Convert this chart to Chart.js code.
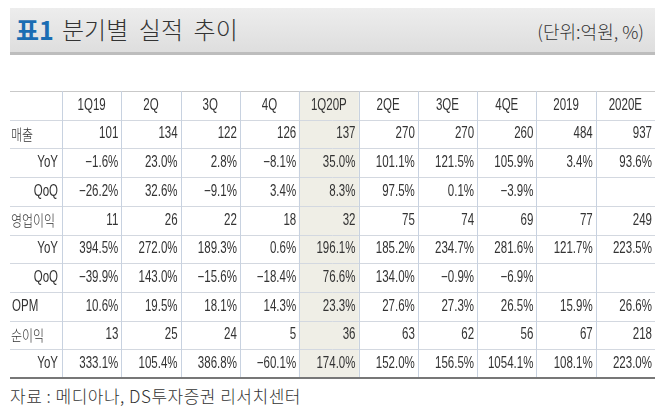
<!DOCTYPE html>
<html><head><meta charset="utf-8">
<script src="https://cdn.jsdelivr.net/npm/chart.js@4"></script>
<style>
body{margin:0;background:#fff;width:658px;height:412px;overflow:hidden;position:relative;font-family:"Noto Sans CJK KR",sans-serif}
#bar{position:absolute;left:10px;top:8px;width:645px;height:44px;background:linear-gradient(#ededed,#dedede);border-bottom:3px solid #bdbdbd}
#t1{position:absolute;left:16px;top:14px;font-size:25px;font-weight:bold;color:#1b6db3;line-height:30px}
#t2{position:absolute;left:62px;top:14px;font-size:24px;color:#333;line-height:30px;font-weight:300}
#u{position:absolute;right:14px;top:18px;font-size:18px;color:#333;line-height:26px;font-weight:300}
#src{position:absolute;left:10px;top:384px;font-size:17px;color:#333;line-height:24px;font-weight:300;letter-spacing:0.5px}
canvas{position:absolute;left:0;top:0}
</style></head><body>
<div id="bar"></div><div id="t1">표1</div><div id="t2">분기별&nbsp; 실적&nbsp; 추이</div><div id="u">(단위:억원, %)</div>
<div id="src">자료 : 메디아나, DS투자증권 리서치센터</div>
<div style="position:absolute;left:0;top:0;width:658px;height:412px"><canvas id="c"></canvas></div>
<script>
const columns=["1Q19","2Q","3Q","4Q","1Q20P","2QE","3QE","4QE","2019","2020E"];
const rowLabels=["매출","YoY","QoQ","영업이익","YoY","QoQ","OPM","순이익","YoY"];
const subRow=[false,true,true,false,true,true,false,false,true];
const sales=[101,134,122,126,137,270,270,260,484,937];
const salesYoY=[-1.6,23.0,2.8,-8.1,35.0,101.1,121.5,105.9,3.4,93.6];
const salesQoQ=[-26.2,32.6,-9.1,3.4,8.3,97.5,0.1,-3.9,null,null];
const op=[11,26,22,18,32,75,74,69,77,249];
const opYoY=[394.5,272.0,189.3,0.6,196.1,185.2,234.7,281.6,121.7,223.5];
const opQoQ=[-39.9,143.0,-15.6,-18.4,76.6,134.0,-0.9,-6.9,null,null];
const opm=[10.6,19.5,18.1,14.3,23.3,27.6,27.3,26.5,15.9,26.6];
const ni=[13,25,24,5,36,63,62,56,67,218];
const niYoY=[333.1,105.4,386.8,-60.1,174.0,152.0,156.5,1054.1,108.1,223.0];
const rows=[sales,salesYoY,salesQoQ,op,opYoY,opQoQ,opm,ni,niYoY];
const isPct=[false,true,true,false,true,true,true,false,true];
const highlightCol="1Q20P";
const nRows=rowLabels.length+1;
function fmt(v,p){if(v===null)return "";let s=p?Math.abs(v).toFixed(1)+"%":String(Math.abs(v));return (v<0?"−":"")+s;}
const NUM='16px "Liberation Sans",sans-serif';
const KR='300 15px "Noto Sans CJK KR",sans-serif';
const SX=0.72;
function txt(c,s,x,y,align,font,sx){c.save();c.font=font;c.textAlign=align;c.translate(x,y);c.scale(sx,1);c.fillText(s,0,0);c.restore();}
const tablePlugin={id:'tbl',afterDatasetsDraw(ch){
 const c=ch.ctx,x=ch.scales.x,y=ch.scales.y,a=ch.chartArea;
 const L=10,half=(x.getPixelForValue(1)-x.getPixelForValue(0))/2;
 c.save();
 c.strokeStyle='#d3d8e0';c.lineWidth=1;
 for(let r=1;r<nRows;r++){const py=Math.round(y.getPixelForValue(r))+0.5;c.beginPath();c.moveTo(L,py);c.lineTo(a.right,py);c.stroke();}
 c.strokeStyle='#c9c9c9';c.beginPath();c.moveTo(L,a.top+0.5);c.lineTo(a.right,a.top+0.5);c.stroke();
 c.strokeStyle='#c8d2e0';
 for(let i=0;i<columns.length;i++){const px=Math.round(x.getPixelForValue(i)-half)+0.5;c.beginPath();c.moveTo(px,a.top);c.lineTo(px,a.bottom);c.stroke();}
 c.strokeStyle='#777';c.lineWidth=2;c.beginPath();c.moveTo(L,a.bottom);c.lineTo(a.right,a.bottom);c.stroke();
 c.fillStyle='#333';c.textBaseline='middle';
 columns.forEach((col,i)=>txt(c,col,x.getPixelForValue(i),y.getPixelForValue(0.5),'center',NUM,SX));
 rows.forEach((arr,r)=>{const py=y.getPixelForValue(r+1.5);
  if(subRow[r])txt(c,rowLabels[r],a.left-4,py,'right',NUM,SX);
  else if(rowLabels[r]==="OPM")txt(c,rowLabels[r],L+2,py,'left',NUM,SX);
  else txt(c,rowLabels[r],L+1,py,'left',KR,0.8);
  arr.forEach((v,i)=>txt(c,fmt(v,isPct[r]),x.getPixelForValue(i)+half-3,py,'right',NUM,SX));});
 c.restore();}};
new Chart(document.getElementById('c'),{type:'bar',
 data:{labels:columns,datasets:[{data:columns.map(cn=>cn===highlightCol?nRows:null),backgroundColor:'#efeee6',barPercentage:1,categoryPercentage:1}]},
 options:{responsive:true,maintainAspectRatio:false,animation:false,events:[],
  layout:{padding:{left:62,right:3,top:91,bottom:34}},
  plugins:{legend:{display:false},tooltip:{enabled:false}},
  scales:{x:{display:false},y:{display:false,min:0,max:nRows,reverse:true}}},
 plugins:[tablePlugin]});
</script></body></html>
